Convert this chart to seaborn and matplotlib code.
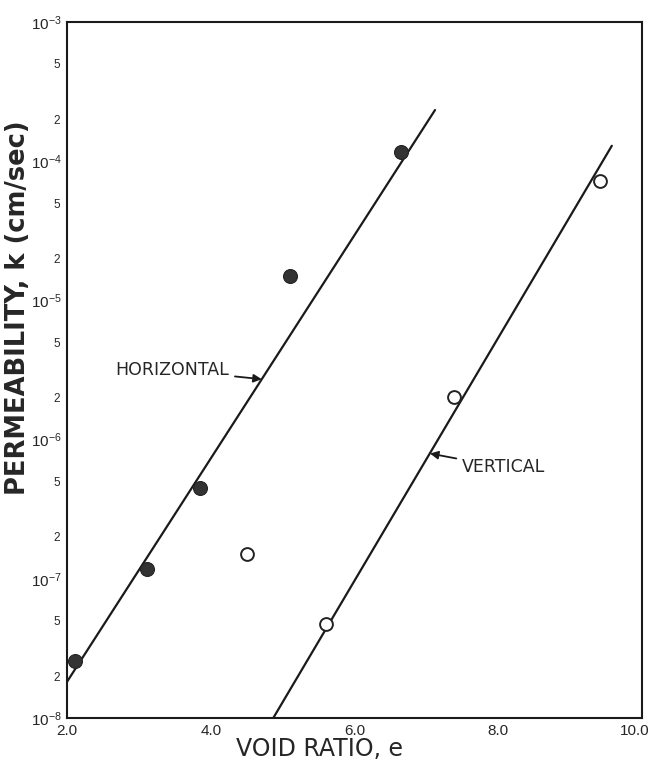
import matplotlib
matplotlib.use("Agg")
import matplotlib.pyplot as plt
import matplotlib.ticker as mticker
import matplotlib.transforms as mtransforms
import pandas as pd
import seaborn as sns

# Measured permeability, horizontal flow (filled symbols)
horiz_void = [2.11, 3.11, 3.85, 5.10, 6.65]
horiz_k = [2.56e-8, 1.17e-7, 4.49e-7, 1.50e-5, 1.16e-4]

# Measured permeability, vertical flow (open symbols)
vert_void = [4.50, 5.60, 7.38, 9.42]
vert_k = [1.51e-7, 4.73e-8, 2.02e-6, 7.21e-5]

# Fitted trend lines (end points)
horiz_line_void = [2.0, 7.12]
horiz_line_k = [1.82e-8, 2.33e-4]
vert_line_void = [4.87, 9.58]
vert_line_k = [1.0e-8, 1.29e-4]

# Axis ticks
x_major = [2.0, 4.0, 6.0, 8.0, 10.0]
x_major_labels = ["2.0", "4.0", "6.0", "8.0", "10.0"]
x_minor = [3.0, 5.0, 7.0, 9.0]
y_major = [1e-8, 1e-7, 1e-6, 1e-5, 1e-4, 1e-3]
y_major_labels = [r"$10^{-8}$", r"$10^{-7}$", r"$10^{-6}$", r"$10^{-5}$",
                  r"$10^{-4}$", r"$10^{-3}$"]
y_minor = [2e-8, 5e-8, 2e-7, 5e-7, 2e-6, 5e-6, 2e-5, 5e-5, 2e-4, 5e-4]
y_minor_labels = ["2", "5"] * 5

sns.set_style("white")
plt.rcParams["font.family"] = ["Liberation Sans", "DejaVu Sans"]
plt.rcParams["mathtext.fontset"] = "custom"
plt.rcParams["mathtext.rm"] = "Liberation Sans"
plt.rcParams["mathtext.it"] = "Liberation Sans"

fig = plt.figure(figsize=(6.51, 7.67), dpi=100)
ax = fig.add_axes([67 / 651, 1 - 718 / 767, 575 / 651, 696 / 767])

pts_h = pd.DataFrame({"e": horiz_void, "k": horiz_k})
pts_v = pd.DataFrame({"e": vert_void, "k": vert_k})
line_h = pd.DataFrame({"e": horiz_line_void, "k": horiz_line_k})
line_v = pd.DataFrame({"e": vert_line_void, "k": vert_line_k})

sns.lineplot(data=line_h, x="e", y="k", ax=ax, color="#1a1a1a", lw=1.6)
sns.lineplot(data=line_v, x="e", y="k", ax=ax, color="#1a1a1a", lw=1.6)
sns.scatterplot(data=pts_h, x="e", y="k", ax=ax, s=100, color="#333333",
                edgecolor="#222222", linewidth=0.8, zorder=5)
sns.scatterplot(data=pts_v, x="e", y="k", ax=ax, s=85, facecolor="white",
                edgecolor="#222222", linewidth=1.4, zorder=5)

ax.set_yscale("log")
ax.set_xlim(2.0, 10.0)
ax.set_ylim(1e-8, 1e-3)

ax.xaxis.set_major_locator(mticker.FixedLocator(x_major))
ax.xaxis.set_major_formatter(mticker.FixedFormatter(x_major_labels))
ax.xaxis.set_minor_locator(mticker.FixedLocator(x_minor))
ax.yaxis.set_major_locator(mticker.FixedLocator(y_major))
ax.yaxis.set_major_formatter(mticker.FixedFormatter(y_major_labels))
ax.yaxis.set_minor_locator(mticker.FixedLocator(y_minor))
ax.yaxis.set_minor_formatter(mticker.FixedFormatter(y_minor_labels))

ax.tick_params(axis="x", which="both", direction="in", length=11, width=1.4,
               labelsize=11, pad=4, color="#1a1a1a")
ax.tick_params(axis="y", which="major", direction="in", length=10, width=1.6,
               labelsize=11, pad=4, color="#1a1a1a")
ax.tick_params(axis="y", which="minor", direction="in", length=5, width=1.4,
               labelsize=8.5, pad=5, color="#1a1a1a")

# keep the "10.0" label inside the figure edge
fig.canvas.draw()
last = ax.xaxis.get_major_ticks()[-1].label1
last.set_transform(last.get_transform() +
                   mtransforms.ScaledTranslation(-7 / 100, 0, fig.dpi_scale_trans))

for sp in ax.spines.values():
    sp.set_linewidth(1.5)
    sp.set_color("#1a1a1a")

ax.set_xlabel("VOID RATIO, e", fontsize=17, family="DejaVu Sans", labelpad=2)
ax.xaxis.set_label_coords(0.44, -0.027, transform=ax.transAxes)
ax.xaxis.label.set_va("top")
ax.set_ylabel("PERMEABILITY, k (cm/sec)", fontsize=18.5, family="DejaVu Sans",
              fontweight="bold", labelpad=2)
ax.yaxis.set_label_coords(-0.063, 0.59, transform=ax.transAxes)

arrow = dict(arrowstyle="-|>", color="#1a1a1a", lw=1.3, mutation_scale=12,
             shrinkA=2, shrinkB=0)
ax.annotate("HORIZONTAL", xy=(4.71, 10 ** -5.566), xytext=(2.67, 10 ** -5.50),
            fontsize=12.5, family="DejaVu Sans", va="center", ha="left",
            arrowprops=arrow)
ax.annotate("VERTICAL", xy=(7.05, 10 ** -6.10), xytext=(7.50, 10 ** -6.20),
            fontsize=12.5, family="DejaVu Sans", va="center", ha="left",
            arrowprops=arrow)

fig.savefig("out.png", dpi=100)
